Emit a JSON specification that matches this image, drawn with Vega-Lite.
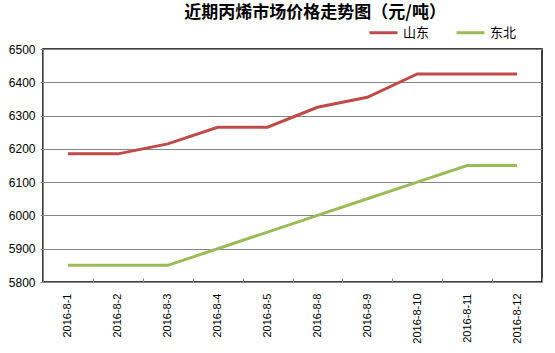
{
  "$schema": "https://vega.github.io/schema/vega-lite/v6.json",
  "width": 499,
  "height": 233,
  "autosize": {"type": "none"},
  "padding": {"left": 43, "top": 49, "right": 13, "bottom": 71},
  "background": "white",
  "config": {
    "view": {"stroke": "black", "strokeWidth": 1.5},
    "font": "Liberation Sans"
  },
  "title": {
    "text": "近期丙烯市场价格走势图（元/吨）",
    "font": "Noto Sans CJK SC",
    "fontSize": 17,
    "fontWeight": "bold",
    "color": "black",
    "anchor": "start",
    "dx": 176,
    "offset": -5
  },
  "data": {
    "values": [
      {"date": "2016-8-1", "region": "山东", "price": 6185},
      {"date": "2016-8-2", "region": "山东", "price": 6185},
      {"date": "2016-8-3", "region": "山东", "price": 6215},
      {"date": "2016-8-4", "region": "山东", "price": 6265},
      {"date": "2016-8-5", "region": "山东", "price": 6265},
      {"date": "2016-8-8", "region": "山东", "price": 6325},
      {"date": "2016-8-9", "region": "山东", "price": 6355},
      {"date": "2016-8-10", "region": "山东", "price": 6425},
      {"date": "2016-8-11", "region": "山东", "price": 6425},
      {"date": "2016-8-12", "region": "山东", "price": 6425},
      {"date": "2016-8-1", "region": "东北", "price": 5850},
      {"date": "2016-8-2", "region": "东北", "price": 5850},
      {"date": "2016-8-3", "region": "东北", "price": 5850},
      {"date": "2016-8-4", "region": "东北", "price": 5900},
      {"date": "2016-8-5", "region": "东北", "price": 5950},
      {"date": "2016-8-8", "region": "东北", "price": 6000},
      {"date": "2016-8-9", "region": "东北", "price": 6050},
      {"date": "2016-8-10", "region": "东北", "price": 6100},
      {"date": "2016-8-11", "region": "东北", "price": 6150},
      {"date": "2016-8-12", "region": "东北", "price": 6150}
    ]
  },
  "mark": {"type": "line", "strokeWidth": 3},
  "encoding": {
    "x": {
      "field": "date",
      "type": "nominal",
      "sort": null,
      "scale": {"type": "band", "paddingInner": 0, "paddingOuter": 0},
      "axis": {
        "title": null,
        "labelAngle": -90,
        "labelFontSize": 11,
        "labelColor": "black",
        "labelPadding": 15,
        "domainColor": "#868686",
        "tickColor": "#868686",
        "tickBand": "extent",
        "tickSize": -4,
        "grid": false
      }
    },
    "y": {
      "field": "price",
      "type": "quantitative",
      "scale": {"domain": [5800, 6500], "nice": false, "zero": false},
      "axis": {
        "title": null,
        "format": "d",
        "values": [5800, 5900, 6000, 6100, 6200, 6300, 6400, 6500],
        "labelFontSize": 12,
        "labelColor": "black",
        "labelPadding": 5,
        "domainColor": "#868686",
        "tickColor": "#868686",
        "tickSize": 3,
        "gridColor": "#868686",
        "gridWidth": 1
      }
    },
    "color": {
      "field": "region",
      "type": "nominal",
      "sort": ["山东", "东北"],
      "scale": {"domain": ["山东", "东北"], "range": ["#BE4B48", "#9BBB59"]},
      "legend": {
        "title": null,
        "orient": "none",
        "direction": "horizontal",
        "legendX": 325,
        "legendY": -32,
        "symbolType": "stroke",
        "symbolSize": 784,
        "symbolStrokeWidth": 3,
        "labelFontSize": 13,
        "labelFont": "Noto Sans CJK SC",
        "labelColor": "black",
        "labelOffset": 4,
        "columnPadding": 20
      }
    }
  }
}
